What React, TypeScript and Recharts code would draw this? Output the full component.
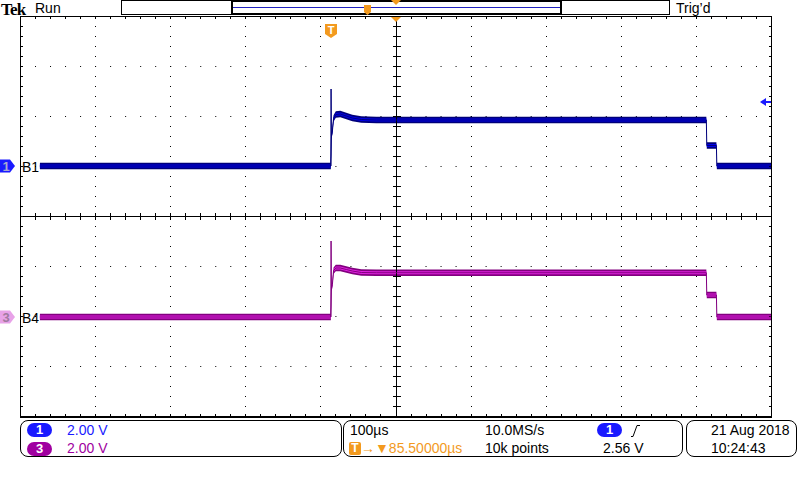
import React from 'react';
import { ComposedChart, Area, Line, XAxis, YAxis, CartesianGrid, ReferenceLine } from 'recharts';

// scope settings
const VOLTS_PER_DIV = 2;
const TIME_PER_DIV = 100; // µs
const TRIGGER_DELAY = 85.5; // µs, trigger sits left of screen centre
const TRIGGER_LEVEL = 2.56; // V, channel 1
const CH1_POSITION = 1; // divisions above centre
const CH3_POSITION = -2.02;

// channel 1 (B1): µs from trigger, volts
const ch1Time = [-388, -0.6, 0.2, 1.5, 3, 6, 12, 20, 28, 40, 60, 499.4, 500, 512.8, 513.4, 585.5];
const ch1Volts = [0, 0, 1.2, 1.4, 1.9, 2.06, 2.08, 2.0, 1.92, 1.86, 1.84, 1.84, 0.82, 0.82, 0, 0];
const ch1SpikeTime = [-0.6, -0.3, 0.2];
const ch1SpikeVolts = [0, 3.08, 1.2];

// channel 3 (B4)
const ch3Time = [-388, -0.6, 0.2, 1.5, 3, 6, 12, 20, 28, 40, 60, 499.4, 500, 512.8, 513.4, 585.5];
const ch3Volts = [0, 0, 1.16, 1.3, 1.85, 1.96, 1.96, 1.9, 1.84, 1.78, 1.77, 1.77, 0.88, 0.88, 0, 0];
const ch3SpikeTime = [-0.6, -0.3, 0.2];
const ch3SpikeVolts = [0, 3.04, 1.16];

const X_MIN = -5 * TIME_PER_DIV + TRIGGER_DELAY;
const X_MAX = 5 * TIME_PER_DIV + TRIGGER_DELAY;
const CENTER_T = TRIGGER_DELAY;

const toDiv = (v: number, pos: number) => v / VOLTS_PER_DIV + pos;
const band = (time: number[], volts: number[], pos: number, half: number) =>
  time.map((t, i) => ({ t, r: [toDiv(volts[i] - half, pos), toDiv(volts[i] + half, pos)], y: toDiv(volts[i], pos) }));

const ch1Outer = band(ch1Time, ch1Volts, CH1_POSITION, 0.13);
const ch1Inner = band(ch1Time, ch1Volts, CH1_POSITION, 0.06);
const ch1Spike = band(ch1SpikeTime, ch1SpikeVolts, CH1_POSITION, 0);
const ch3Outer = band(ch3Time, ch3Volts, CH3_POSITION, 0.13);
const ch3Inner = band(ch3Time, ch3Volts, CH3_POSITION, 0.06);
const ch3Spike = band(ch3SpikeTime, ch3SpikeVolts, CH3_POSITION, 0);

const ORANGE = '#f39a1e';
const BLUE = '#1a1aff';
const MAGENTA = '#a000a0';
const FONT = '"Liberation Sans", Arial, sans-serif';

// solid graticule line with minor ticks
const vRule = (before: number, after: number) => (p: any) => {
  const c = Math.round(p.x1);
  const top = Math.min(p.y1, p.y2);
  const bottom = Math.max(p.y1, p.y2);
  const step = (bottom - top) / 40;
  const marks = [];
  for (let i = 1; i < 40; i++) {
    const y = Math.round(top + i * step) + 0.5;
    marks.push(<line key={i} x1={c - before} x2={c + 1 + after} y1={y} y2={y} stroke="#000" />);
  }
  return (
    <g>
      <line x1={c + 0.5} x2={c + 0.5} y1={top} y2={bottom + 1} stroke="#000" />
      {marks}
    </g>
  );
};

const hRule = (above: number, below: number, w = 1) => (p: any) => {
  const r = Math.round(p.y1);
  const left = Math.min(p.x1, p.x2);
  const right = Math.max(p.x1, p.x2);
  const step = (right - left) / 50;
  const marks = [];
  for (let i = 1; i < 50; i++) {
    const x = Math.round(left + i * step) + 0.5;
    marks.push(<line key={i} x1={x} x2={x} y1={r - above} y2={r + w + below} stroke="#000" />);
  }
  return (
    <g>
      <line x1={left} x2={right + 1} y1={r + w / 2} y2={r + w / 2} stroke="#000" strokeWidth={w} />
      {marks}
    </g>
  );
};

const chMarker = (n: string, fill: string, textFill: string, label: string) => (p: any) => {
  const y = Math.round(p.y1);
  return (
    <g>
      <polygon points={`0,${y - 6.5} 10,${y - 6.5} 15,${y} 10,${y + 6.5} 0,${y + 6.5}`} fill={fill} />
      <text x={6} y={y + 5} textAnchor="middle" fontSize={13} fontWeight={700} fill={textFill} fontFamily={FONT}>{n}</text>
      <text x={22} y={y + 6} fontSize={14} fill="#000" fontFamily={FONT}>{label}</text>
    </g>
  );
};

const trigMarker = (p: any) => {
  const x = Math.round(p.x1);
  return (
    <g>
      <path d={`M${x - 6},24 h12 v10 l-6,4 l-6,-4 z`} fill={ORANGE} />
      <text x={x} y={34} textAnchor="middle" fontSize={11} fontWeight={700} fill="#fff" fontFamily={FONT}>T</text>
    </g>
  );
};

const centreArrow = (p: any) => {
  const x = Math.round(p.x1);
  return <polygon points={`${x - 5},17 ${x + 5},17 ${x},22`} fill={ORANGE} />;
};

const levelArrow = (p: any) => {
  const y = Math.round(p.y1);
  const r = Math.round(Math.max(p.x1, p.x2));
  return (
    <g>
      <polygon points={`${r - 11},${y} ${r - 5},${y - 4} ${r - 5},${y + 4}`} fill={BLUE} />
      <rect x={r - 5} y={y - 1} width={5} height={2} fill={BLUE} />
    </g>
  );
};

const gridX = [1, 2, 3, 4, 6, 7, 8, 9].map((k) => Math.round(20 + 75.1 * k) + 0.5);
const gridY = [1, 2, 3, 5, 6, 7].map((k) => 16 + 50 * k + 0.5);

const Pill = ({ n, bg, left, top }: { n: string; bg: string; left: number; top: number }) => (
  <div style={{ position: 'absolute', left, top, width: 25, height: 14, borderRadius: 7, background: bg, color: '#fff', fontWeight: 700, fontSize: 13, lineHeight: '14px', textAlign: 'center' }}>{n}</div>
);

const Txt = ({ left, top, color = '#000', children }: any) => (
  <div style={{ position: 'absolute', left, top, fontSize: 14, lineHeight: '16px', color, whiteSpace: 'nowrap' }}>{children}</div>
);

const box = (left: number, width: number): React.CSSProperties => ({
  position: 'absolute', left, top: 420, width, height: 37, border: '1px solid #000', borderRadius: 8, boxSizing: 'border-box',
});

export default function App() {
  return (
    <div style={{ position: 'absolute', left: 0, top: 0, width: 800, height: 480, background: '#fff', overflow: 'hidden', fontFamily: FONT }}>
      {/* top bar */}
      <div style={{ position: 'absolute', left: 1, top: 0, fontFamily: '"Liberation Serif", serif', fontWeight: 700, fontSize: 17, lineHeight: '19px', letterSpacing: -0.8 }}>Tek</div>
      <Txt left={35} top={0}>Run</Txt>
      <Txt left={676} top={0}>Trig’d</Txt>
      <svg width={800} height={16} style={{ position: 'absolute', left: 0, top: 0 }}>
        <rect x={121.5} y={0.5} width={548} height={14} fill="none" stroke="#000" />
        <rect x={232} y={1} width={329} height={13} fill="none" stroke="#000" strokeWidth={2} />
        <line x1={233} x2={560} y1={7.5} y2={7.5} stroke="#2020c0" />
        <path d="M364,5 h7 v7 l-3.5,3 l-3.5,-3 z" fill={ORANGE} />
        <polygon points="391,0 401,0 396,5" fill={ORANGE} />
      </svg>

      <ComposedChart width={800} height={480} margin={{ top: 16, right: 29, bottom: 64, left: 20 }} style={{ position: 'absolute', left: 0, top: 0 }}>
        <XAxis dataKey="t" type="number" domain={[X_MIN, X_MAX]} allowDataOverflow hide />
        <YAxis type="number" domain={[-4, 4]} allowDataOverflow hide />
        <CartesianGrid horizontal={false} verticalPoints={gridX} stroke="#000" strokeDasharray="1 9" />
        <CartesianGrid vertical={false} horizontalPoints={gridY} stroke="#000" strokeDasharray="1 14.02" />

        <ReferenceLine x={X_MIN} shape={vRule(0, 2)} />
        <ReferenceLine x={X_MAX} shape={vRule(2, 0)} />
        <ReferenceLine x={CENTER_T} shape={vRule(3, 4)} />
        <ReferenceLine y={4} shape={hRule(0, 2)} />
        <ReferenceLine y={-4} shape={hRule(2, 0, 2)} />
        <ReferenceLine y={0} shape={hRule(3, 3)} />

        <Area data={ch1Outer} dataKey="r" type="linear" stroke="none" fill="#00007a" fillOpacity={1} isAnimationActive={false} dot={false} activeDot={false} />
        <Area data={ch1Inner} dataKey="r" type="linear" stroke="none" fill="#0000e8" fillOpacity={1} isAnimationActive={false} dot={false} activeDot={false} />
        <Line data={ch1Outer} dataKey="y" type="linear" stroke="#00007a" strokeWidth={1} isAnimationActive={false} dot={false} activeDot={false} />
        <Line data={ch1Spike} dataKey="y" type="linear" stroke="#00007a" strokeWidth={1} isAnimationActive={false} dot={false} activeDot={false} />

        <Area data={ch3Outer} dataKey="r" type="linear" stroke="none" fill="#82007f" fillOpacity={1} isAnimationActive={false} dot={false} activeDot={false} />
        <Area data={ch3Inner} dataKey="r" type="linear" stroke="none" fill="#e020e0" fillOpacity={1} isAnimationActive={false} dot={false} activeDot={false} />
        <Line data={ch3Outer} dataKey="y" type="linear" stroke="#82007f" strokeWidth={1} isAnimationActive={false} dot={false} activeDot={false} />
        <Line data={ch3Spike} dataKey="y" type="linear" stroke="#82007f" strokeWidth={1} isAnimationActive={false} dot={false} activeDot={false} />

        <ReferenceLine x={0} shape={trigMarker} />
        <ReferenceLine x={CENTER_T} shape={centreArrow} />
        <ReferenceLine y={toDiv(TRIGGER_LEVEL, CH1_POSITION)} shape={levelArrow} />
        <ReferenceLine y={CH1_POSITION} shape={chMarker('1', BLUE, '#a8a8d0', 'B1')} />
        <ReferenceLine y={CH3_POSITION} shape={chMarker('3', '#e8a2e8', '#a07aa0', 'B4')} />
      </ComposedChart>

      {/* status boxes */}
      <div style={box(20, 322)} />
      <Pill n="1" bg={BLUE} left={27} top={423} />
      <Txt left={67} top={422} color={BLUE}>2.00 V</Txt>
      <Pill n="3" bg={MAGENTA} left={27} top={442} />
      <Txt left={67} top={440} color={MAGENTA}>2.00 V</Txt>

      <div style={box(343, 340)} />
      <Txt left={350} top={422}>100µs</Txt>
      <div style={{ position: 'absolute', left: 349, top: 442, width: 12, height: 13, background: ORANGE, borderRadius: 2, color: '#fff', fontWeight: 700, fontSize: 12, lineHeight: '13px', textAlign: 'center' }}>T</div>
      <Txt left={361} top={440} color={ORANGE}>→▼85.50000µs</Txt>
      <Txt left={485} top={422}>10.0MS/s</Txt>
      <Txt left={485} top={440}>10k points</Txt>
      <Pill n="1" bg={BLUE} left={597} top={423} />
      <svg width={12} height={14} style={{ position: 'absolute', left: 630, top: 424 }}>
        <path d="M1,12.5 H3 L7,1.5 H10" fill="none" stroke="#000" />
      </svg>
      <Txt left={603} top={440}>2.56 V</Txt>

      <div style={box(686, 111)} />
      <Txt left={711} top={422}>21 Aug 2018</Txt>
      <Txt left={711} top={440}>10:24:43</Txt>
    </div>
  );
}
